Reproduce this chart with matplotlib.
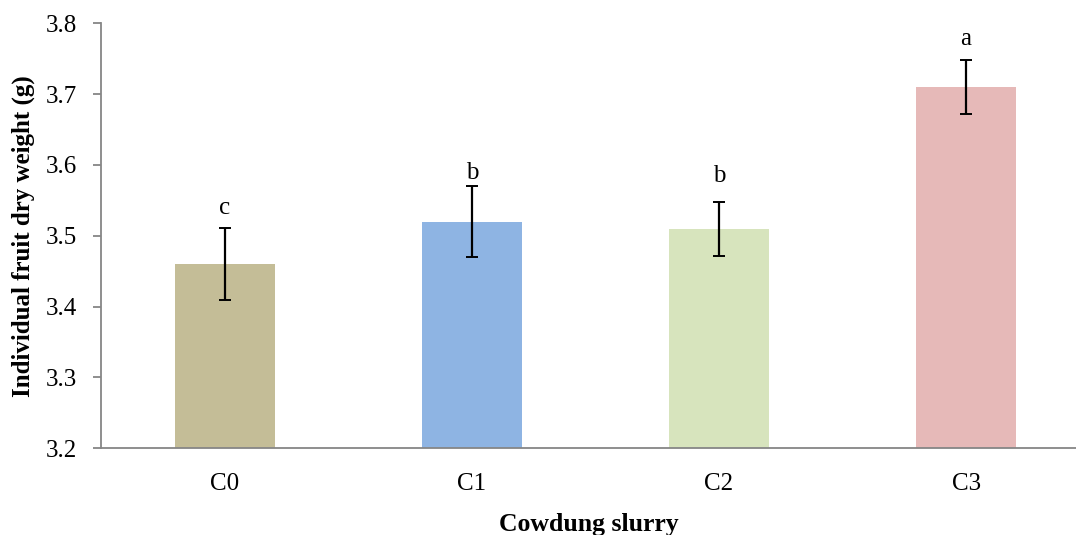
import matplotlib
matplotlib.use("Agg")
import matplotlib.pyplot as plt

# treatment data
categories = ["C0", "C1", "C2", "C3"]
dry_weight = [3.46, 3.52, 3.51, 3.71]
std_err = [0.051, 0.050, 0.038, 0.0385]
letters = ["c", "b", "b", "a"]
letter_y = [3.531, 3.580, 3.576, 3.769]
bar_colors = ["#C4BD97", "#8EB4E3", "#D7E4BD", "#E6B9B8"]
y_ticks = [3.2, 3.3, 3.4, 3.5, 3.6, 3.7, 3.8]

plt.rcParams["font.family"] = ["Liberation Serif", "DejaVu Serif"]

fig = plt.figure(figsize=(10.76, 5.35), dpi=100)
ax = fig.add_axes([101 / 1076, 86.7 / 535, 975 / 1076, 425 / 535])

x = list(range(len(categories)))
ax.bar(x, [v - 3.2 for v in dry_weight], bottom=3.2, width=0.405, color=bar_colors)
ax.errorbar(x, dry_weight, yerr=std_err, fmt="none", ecolor="black",
            elinewidth=1.6, capsize=4.5, capthick=1.4)

for xi, lab, ly in zip(x, letters, letter_y):
    ax.text(xi, ly, lab, ha="center", va="baseline", fontsize=18)

ax.set_ylim(3.2, 3.8)
ax.set_xlim(-0.502, 3.445)
ax.set_yticks(y_ticks)
ax.set_yticklabels([f"{t:.1f}" for t in y_ticks])
ax.set_xticks(x)
ax.set_xticklabels(categories)

for side in ["top", "right"]:
    ax.spines[side].set_visible(False)
for side in ["left", "bottom"]:
    ax.spines[side].set_color("#868686")
    ax.spines[side].set_linewidth(1.3)

ax.tick_params(axis="y", length=6, width=1.3, color="#868686", labelsize=18, pad=11)
ax.tick_params(axis="x", length=0, labelsize=18, pad=18)

ax.set_ylabel("Individual fruit dry weight (g)", fontsize=18, fontweight="bold", labelpad=8)
ax.set_xlabel("Cowdung slurry", fontsize=18.5, fontweight="bold", labelpad=13)

fig.savefig("out.png", dpi=100)
